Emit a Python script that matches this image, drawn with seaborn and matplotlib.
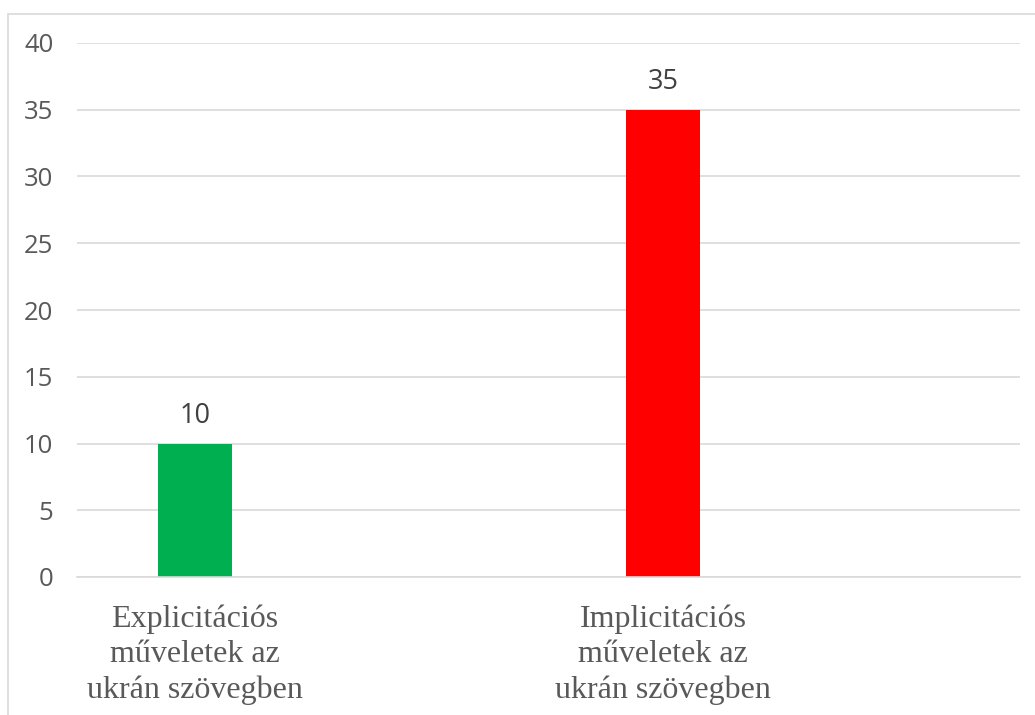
import matplotlib
matplotlib.use("Agg")
import matplotlib.pyplot as plt
import seaborn as sns
import pandas as pd
from matplotlib.patches import Rectangle

categories = ["Explicitációs\nműveletek az\nukrán szövegben",
              "Implicitációs\nműveletek az\nukrán szövegben"]
values = [10, 35]
colors = ["#00B050", "#FF0000"]
yticks = [0, 5, 10, 15, 20, 25, 30, 35, 40]

sns.set_theme(style="white")
plt.rcParams['font.family'] = ['Open Sans', 'DejaVu Sans']

df = pd.DataFrame({"cat": categories, "val": values})

fig = plt.figure(figsize=(10.35, 7.15), dpi=100)
W, H = 1035, 715
ax = fig.add_axes([77 / W, 1 - 577 / H, (1020 - 77) / W, (577 - 43) / H])

sns.barplot(data=df, x="cat", y="val", hue="cat", palette=colors,
            width=0.158, legend=False, ax=ax, saturation=1, linewidth=0)

ax.set_xlim(-0.252, 1.763)
ax.set_ylim(0, 40)
ax.set_yticks(yticks)
ax.yaxis.grid(True, color="#D9D9D9", linewidth=1.2)
ax.set_axisbelow(True)
for s in ["top", "right", "left"]:
    ax.spines[s].set_visible(False)
ax.spines["bottom"].set_color("#D9D9D9")
ax.spines["bottom"].set_linewidth(1.2)
ax.tick_params(axis="y", length=0, pad=17, labelsize=18.5, labelcolor="#595959")
ax.tick_params(axis="x", length=0, pad=20)
ax.set_xlabel("")
ax.set_ylabel("")
for lab in ax.get_xticklabels():
    lab.set_fontfamily("Liberation Serif")
    lab.set_fontsize(23)
    lab.set_color("#595959")
    lab.set_linespacing(1.28)
    lab.set_verticalalignment("top")

for cont in ax.containers:
    ax.bar_label(cont, padding=10, fontsize=19.5, color="#404040")

fig.patches.append(Rectangle((8 / W, -0.1), 1.2, 1 - 14 / H + 0.1,
                             transform=fig.transFigure, fill=False,
                             edgecolor="#D9D9D9", linewidth=1.2))

fig.savefig("out.png", dpi=100, facecolor="white")
